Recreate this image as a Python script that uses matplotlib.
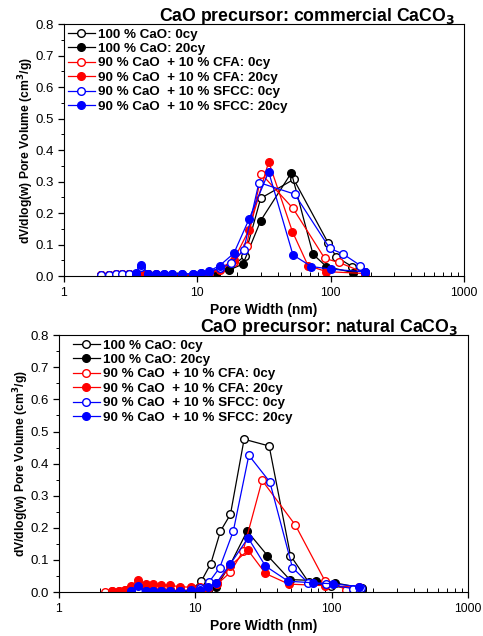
import matplotlib.pyplot as plt
from matplotlib.ticker import LogLocator, MultipleLocator, FixedFormatter, FixedLocator

plt.rcParams['font.family'] = ['Liberation Sans', 'DejaVu Sans']

labels = ['100 % CaO: 0cy', '100 % CaO: 20cy',
          '90 % CaO  + 10 % CFA: 0cy', '90 % CaO  + 10 % CFA: 20cy',
          '90 % CaO  + 10 % SFCC: 0cy', '90 % CaO  + 10 % SFCC: 20cy']
colors = ['black', 'black', 'red', 'red', 'blue', 'blue']
filled = [False, True, False, True, False, True]

# commercial CaCO3 derived sorbents
com_x_blk0 = [1.88, 2.18, 2.44, 2.74, 3.07, 3.45, 3.8, 4.27, 4.87, 5.59, 6.49, 7.72, 9.28, 10.7, 12.2, 13.9, 17.3, 22.7, 29.9, 52.9, 95.6, 110, 145, 180]
com_y_blk0 = [0.002, 0.003, 0.004, 0.004, 0.005, 0.005, 0.006, 0.005, 0.004, 0.004, 0.004, 0.004, 0.004, 0.005, 0.006, 0.006, 0.022, 0.064, 0.247, 0.307, 0.106, 0.061, 0.030, 0.012]
com_x_blk20 = [1.88, 2.18, 2.44, 2.74, 3.07, 3.45, 3.8, 4.27, 4.87, 5.59, 6.49, 7.72, 9.28, 10.7, 12.2, 13.7, 17.3, 22.0, 29.9, 50.8, 73.8, 93, 147]
com_y_blk20 = [0.002, 0.003, 0.004, 0.004, 0.005, 0.005, 0.006, 0.005, 0.004, 0.004, 0.004, 0.003, 0.003, 0.003, 0.004, 0.009, 0.019, 0.038, 0.176, 0.328, 0.069, 0.030, 0.011]
com_x_red0 = [1.88, 2.18, 2.44, 2.74, 3.07, 3.45, 3.8, 4.27, 4.87, 5.59, 6.49, 7.72, 9.28, 10.7, 12.2, 14.7, 18.8, 23.4, 30.3, 52.2, 90.3, 115.7, 180]
com_y_red0 = [0.002, 0.004, 0.006, 0.007, 0.008, 0.007, 0.006, 0.005, 0.005, 0.004, 0.004, 0.004, 0.004, 0.006, 0.008, 0.018, 0.045, 0.096, 0.324, 0.215, 0.056, 0.043, 0.010]
com_x_red20 = [1.88, 2.18, 2.44, 2.74, 3.07, 3.45, 3.8, 4.27, 4.87, 5.59, 6.49, 7.72, 9.28, 10.7, 12.2, 14.7, 18.8, 24.4, 34.3, 51.7, 67.7, 93, 180]
com_y_red20 = [0.002, 0.004, 0.006, 0.007, 0.008, 0.007, 0.005, 0.005, 0.004, 0.004, 0.004, 0.004, 0.004, 0.006, 0.010, 0.022, 0.052, 0.146, 0.363, 0.141, 0.033, 0.014, 0.008]
com_x_blu0 = [1.88, 2.18, 2.44, 2.74, 3.07, 3.45, 3.8, 4.27, 4.87, 5.59, 6.49, 7.72, 9.28, 10.7, 12.2, 14.7, 18.0, 22.3, 29.0, 53.8, 98.5, 124, 167.5, 180]
com_y_blu0 = [0.002, 0.004, 0.006, 0.007, 0.008, 0.009, 0.030, 0.007, 0.006, 0.006, 0.006, 0.006, 0.007, 0.010, 0.014, 0.024, 0.040, 0.083, 0.297, 0.260, 0.088, 0.070, 0.033, 0.014]
com_x_blu20 = [3.45, 3.8, 4.27, 4.87, 5.59, 6.49, 7.72, 9.28, 10.7, 12.2, 14.7, 18.8, 24.4, 34.3, 52.2, 71.8, 101, 180]
com_y_blu20 = [0.006, 0.035, 0.008, 0.007, 0.006, 0.006, 0.006, 0.008, 0.011, 0.015, 0.033, 0.072, 0.180, 0.331, 0.067, 0.030, 0.022, 0.013]

# natural CaCO3 derived sorbents
nat_x_blk0 = [3.4, 3.81, 4.32, 4.91, 5.62, 6.51, 7.71, 9.23, 11.1, 13.0, 15.3, 18.1, 22.8, 34.8, 49.9, 68, 99.6, 168]
nat_y_blk0 = [0.002, 0.003, 0.003, 0.003, 0.003, 0.003, 0.004, 0.005, 0.035, 0.089, 0.190, 0.242, 0.476, 0.455, 0.114, 0.030, 0.019, 0.008]
nat_x_blk20 = [3.4, 3.81, 4.32, 4.91, 5.62, 6.51, 7.71, 9.23, 10.8, 12.4, 14.3, 18.0, 24.0, 33.8, 49.3, 77.4, 105, 166]
nat_y_blk20 = [0.002, 0.003, 0.003, 0.002, 0.002, 0.002, 0.003, 0.003, 0.005, 0.008, 0.017, 0.085, 0.190, 0.114, 0.039, 0.036, 0.029, 0.013]
nat_x_red0 = [2.17, 2.45, 2.75, 3.05, 3.4, 3.81, 4.32, 4.91, 5.62, 6.51, 7.71, 9.23, 10.8, 12.4, 14.5, 18.1, 22.4, 30.9, 54.3, 89, 128, 160]
nat_y_red0 = [0.001, 0.003, 0.005, 0.007, 0.010, 0.012, 0.010, 0.008, 0.007, 0.006, 0.006, 0.006, 0.008, 0.012, 0.025, 0.062, 0.128, 0.348, 0.208, 0.036, 0.008, 0.010]
nat_x_red20 = [2.45, 2.75, 3.05, 3.4, 3.81, 4.32, 4.91, 5.62, 6.51, 7.71, 9.23, 10.8, 12.4, 14.5, 17.9, 24.4, 32.7, 48.5, 90.1, 160]
nat_y_red20 = [0.003, 0.005, 0.008, 0.020, 0.039, 0.024, 0.024, 0.023, 0.021, 0.017, 0.015, 0.015, 0.013, 0.029, 0.081, 0.130, 0.058, 0.025, 0.020, 0.015]
nat_x_blu0 = [3.4, 3.81, 4.32, 4.91, 5.62, 6.51, 7.71, 9.23, 10.8, 12.6, 15.1, 19.0, 24.7, 35.2, 51.6, 67.2, 91.6, 143.6, 165]
nat_y_blu0 = [0.002, 0.004, 0.003, 0.003, 0.003, 0.003, 0.004, 0.006, 0.012, 0.031, 0.076, 0.190, 0.426, 0.343, 0.076, 0.029, 0.024, 0.011, 0.014]
nat_x_blu20 = [3.4, 3.81, 4.32, 4.91, 5.62, 6.51, 7.71, 9.23, 10.8, 12.4, 14.3, 18.1, 24.4, 32.7, 48.0, 73.0, 102, 160]
nat_y_blu20 = [0.002, 0.019, 0.004, 0.003, 0.003, 0.003, 0.004, 0.005, 0.008, 0.015, 0.029, 0.088, 0.169, 0.081, 0.034, 0.029, 0.026, 0.017]

com_series = [(com_x_blk0, com_y_blk0), (com_x_blk20, com_y_blk20), (com_x_red0, com_y_red0),
              (com_x_red20, com_y_red20), (com_x_blu0, com_y_blu0), (com_x_blu20, com_y_blu20)]
nat_series = [(nat_x_blk0, nat_y_blk0), (nat_x_blk20, nat_y_blk20), (nat_x_red0, nat_y_red0),
              (nat_x_red20, nat_y_red20), (nat_x_blu0, nat_y_blu0), (nat_x_blu20, nat_y_blu20)]


def draw_panel(ax, series, title, tx, tsize, leg_anchor):
    for (x, y), lab, c, f in zip(series, labels, colors, filled):
        ax.plot(x, y, '-o', color=c, lw=0.9, ms=5.5, mew=1.0,
                mfc=c if f else 'white', mec=c, label=lab)
    ax.set_xscale('log')
    ax.set_xlim(1, 1000)
    ax.set_ylim(0, 0.8)
    ax.xaxis.set_major_locator(FixedLocator([1, 10, 100, 1000]))
    ax.xaxis.set_major_formatter(FixedFormatter(['1', '10', '100', '1000']))
    ax.xaxis.set_minor_locator(LogLocator(base=10, subs=range(2, 10)))
    ax.xaxis.set_minor_formatter(FixedFormatter([]))
    ax.yaxis.set_major_locator(MultipleLocator(0.1))
    ax.yaxis.set_minor_locator(MultipleLocator(0.05))
    ax.yaxis.set_major_formatter(plt.FormatStrFormatter('%.1f'))
    ax.tick_params(which='major', direction='out', length=4.5, width=0.9)
    ax.tick_params(axis='x', which='major', labelsize=8.8)
    ax.tick_params(axis='y', which='major', labelsize=9.5, pad=2.5)
    ax.tick_params(axis='x', which='minor', direction='in', length=3, width=0.7)
    ax.tick_params(axis='y', which='minor', direction='out', length=2.5, width=0.7)
    ax.set_xlabel('Pore Width (nm)', fontsize=10, fontweight='bold', labelpad=3)
    ax.set_ylabel('dV/dlog(w) Pore Volume (cm$^\\mathbf{3}$/g)', fontsize=8.7,
                  fontweight='bold', labelpad=-0.5)
    ax.text(tx, 1.012, title, transform=ax.transAxes, ha='right', va='baseline',
            fontsize=tsize, fontweight='bold')
    ax.legend(loc='upper left', frameon=False, prop={'weight': 'bold', 'size': 9.6},
              handlelength=2.0, handletextpad=0.25, labelspacing=0.16,
              borderaxespad=0.0, borderpad=0.3, bbox_to_anchor=leg_anchor)


fig = plt.figure(figsize=(4.83, 6.36), dpi=100)
ax1 = fig.add_axes([0.1325, 0.566, 0.828, 0.396])
ax2 = fig.add_axes([0.122, 0.069, 0.847, 0.404])

draw_panel(ax1, com_series, 'CaO precursor: commercial CaCO$_\\mathbf{3}$', 0.978, 12.7, (0.0, 1.0))
draw_panel(ax2, nat_series, 'CaO precursor: natural CaCO$_\\mathbf{3}$', 0.976, 12.8, (0.025, 1.0))

fig.savefig('out.png', dpi=100)
